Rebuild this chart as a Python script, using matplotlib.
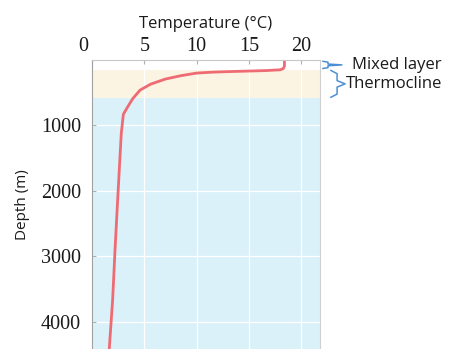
import matplotlib.pyplot as plt
from matplotlib.transforms import blended_transform_factory, ScaledTranslation

# temperature profile
temp = [18.4, 18.4, 18.3, 18.0, 16.6, 13.4, 11.5, 10.0, 8.5, 7.0, 5.6, 4.6,
        3.9, 3.4, 3.0, 2.8, 2.45, 2.2, 1.97, 1.65]
depth = [0, 90, 130, 150, 162, 176, 186, 200, 240, 292, 370, 460,
         590, 720, 830, 1120, 2147, 2911, 3675, 4420]

mixed_layer = (0, 150)
thermocline = (150, 580)
xticks = [0, 5, 10, 15, 20]
yticks = [1000, 2000, 3000, 4000]
bottom = 4420

sans = "Open Sans"
serif = "Liberation Serif"
blue = "#4b8fd4"
dark = "#1a1a1a"

fig = plt.figure(figsize=(4.54, 3.49), dpi=100)
ax = fig.add_axes([92 / 454, 0, 228 / 454, 289 / 349])
ax.set_xlim(0, 21.8)
ax.set_ylim(bottom, 0)

ax.axhspan(*thermocline, color="#fcf4e2", lw=0)
ax.axhspan(thermocline[1], bottom, color="#daf1f9", lw=0)
ax.grid(color="white", lw=0.9)
ax.plot(temp, depth, color="#ef6b73", lw=2.0, solid_capstyle="round",
        solid_joinstyle="round")

ax.xaxis.tick_top()
ax.xaxis.set_label_position("top")
ax.set_xticks(xticks)
ax.set_yticks(yticks)
ax.tick_params(direction="in", length=3, color="#b0b0b0", labelsize=14.5,
               labelcolor=dark)
ax.tick_params(axis="x", pad=3)
ax.tick_params(axis="y", pad=8)
for lab in ax.get_xticklabels() + ax.get_yticklabels():
    lab.set_fontfamily(serif)
# the "0" label sits a bit left of the axis in the original
lab0 = ax.xaxis.get_major_ticks()[0].label2
lab0.set_transform(lab0.get_transform() + ScaledTranslation(-0.09, 0, fig.dpi_scale_trans))

ax.spines["bottom"].set_visible(False)
ax.spines["left"].set_color("#a0a0a0")
ax.spines["top"].set_color("#c8c8c8")
ax.spines["right"].set_color("#d0d0d0")

ax.set_xlabel("Temperature (°C)", fontfamily=sans, fontsize=12, labelpad=6,
              color=dark)
ax.set_ylabel("Depth (m)", fontfamily=sans, fontsize=11, labelpad=8,
              color=dark)

# braces on the right
tr = blended_transform_factory(ax.transAxes, ax.transData)


def brace(y0, y1, x0, arm, tip, inset):
    y0, y1 = y0 + inset, y1 - inset
    ym = (y0 + y1) / 2
    d = (y1 - y0) * 0.12
    xs = [x0, arm, arm, tip, arm, arm, x0]
    ys = [y0, y0 + d, ym - d, ym, ym + d, y1 - d, y1]
    ax.plot(xs, ys, color=blue, lw=1.1, transform=tr, clip_on=False)
    return ym


ym = brace(*mixed_layer, 1.013, 1.035, 1.096, 20)
ax.text(1.14, ym, "Mixed layer", transform=tr, va="center", ha="left",
        fontfamily=sans, fontsize=12, color=dark)
ym = brace(*thermocline, 1.048, 1.075, 1.11, 10)
ax.text(1.115, ym, "Thermocline", transform=tr, va="center", ha="left",
        fontfamily=sans, fontsize=12, color=dark)

fig.savefig("out.png", dpi=100)
